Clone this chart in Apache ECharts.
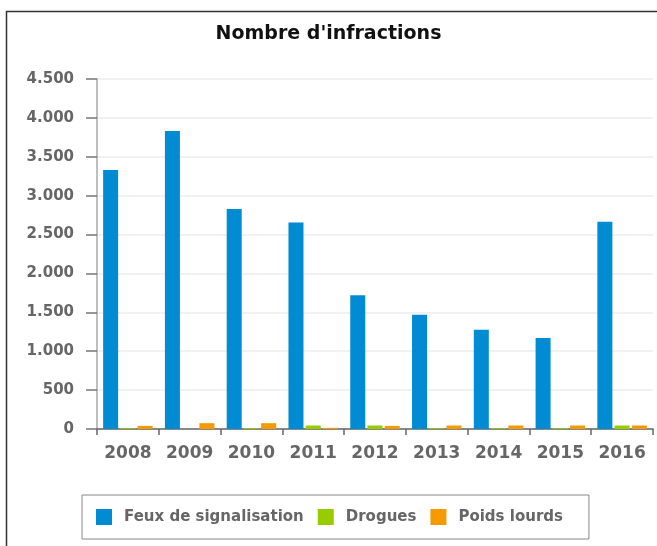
<!DOCTYPE html>
<html>
<head>
<meta charset="utf-8">
<script src="https://cdn.jsdelivr.net/npm/echarts@6/dist/echarts.min.js"></script>
<style>html,body{margin:0;padding:0;background:#fff;}#c{width:657px;height:546px;}</style>
</head>
<body>
<div id="c"></div>
<script>
var years = ['2008','2009','2010','2011','2012','2013','2014','2015','2016'];
var feux = [3330, 3830, 2830, 2655, 1720, 1470, 1275, 1170, 2665];
var drogues = [10, 0, 10, 45, 45, 10, 10, 10, 45];
var poids = [40, 75, 75, 15, 40, 45, 45, 45, 45];
var seriesNames = ['Feux de signalisation', 'Drogues', 'Poids lourds'];
var colors = ['#008BD2', '#96CC00', '#F59A00'];

var chart = echarts.init(document.getElementById('c'));
function fmt(v){ return String(v).replace(/\B(?=(\d{3})+(?!\d))/g, '.'); }
var font = 'DejaVu Sans';
chart.setOption({
  animation: false,
  color: colors,
  graphic: [{
    type: 'rect', left: 4, top: 9, shape: {width: 700, height: 600},
    style: {fill: 'none', stroke: '#333', lineWidth: 1.5}, silent: true, z: -1
  }],
  title: {
    text: "Nombre d'infractions", left: 'center', top: 20,
    textStyle: {fontFamily: font, fontSize: 19, fontWeight: 'bold', color: '#111'}
  },
  legend: {
    data: seriesNames, left: 82, top: 495,
    padding: [14, 26, 14, 14],
    borderColor: '#888', borderWidth: 1,
    itemWidth: 16, itemHeight: 16, itemGap: 14, icon: 'rect',
    textStyle: {fontFamily: font, fontSize: 15, fontWeight: 'bold', color: '#666', padding: [0,0,0,7]}
  },
  grid: {left: 97, right: 4, top: 79, bottom: 117, containLabel: false},
  xAxis: {
    type: 'category', data: years,
    axisLine: {lineStyle: {color: '#666', width: 1.5}},
    axisTick: {show: true, length: 6, lineStyle: {color: '#666', width: 1.5}},
    axisLabel: {fontFamily: font, fontSize: 17, fontWeight: 'bold', color: '#666', margin: 16}
  },
  yAxis: {
    type: 'value', min: 0, max: 4500, interval: 500,
    axisLine: {show: true, lineStyle: {color: '#aaa', width: 1.5}},
    axisTick: {show: true, length: 11, lineStyle: {color: '#777', width: 1.5}},
    splitLine: {lineStyle: {color: '#ececec', width: 1.5}},
    axisLabel: {fontFamily: font, fontSize: 15, fontWeight: 'bold', color: '#666', margin: 23, formatter: fmt}
  },
  series: [
    {name: seriesNames[0], type: 'bar', data: feux, barWidth: 15, barGap: '15%'},
    {name: seriesNames[1], type: 'bar', data: drogues, barWidth: 15, barGap: '15%'},
    {name: seriesNames[2], type: 'bar', data: poids, barWidth: 15, barGap: '15%'}
  ]
});
</script>
</body>
</html>
